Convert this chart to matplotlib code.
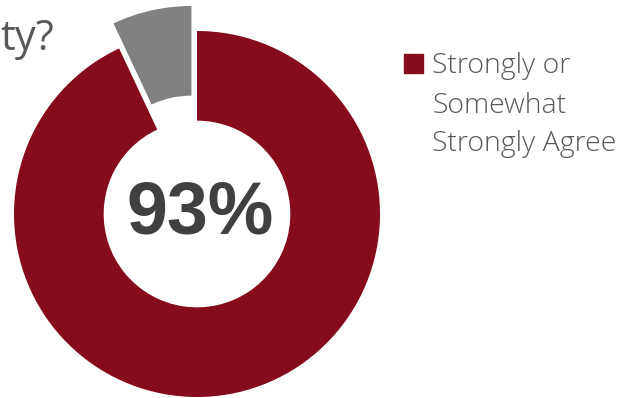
import matplotlib
matplotlib.use("Agg")
import matplotlib.pyplot as plt
from matplotlib.patches import Rectangle

# donut data
labels = ["Strongly or Somewhat Strongly Agree", "Other"]
values = [93, 7]
colors = ["#860B1C", "#808080"]
center_label = "93%"
legend_lines = ["Strongly or", "Somewhat", "Strongly Agree"]
title_tail = "ty?"

W, H = 621, 398
fig = plt.figure(figsize=(W / 100, H / 100), dpi=100)
ax = fig.add_axes([0, 0, 1, 1])

# pixel geometry of the donut
cx, cy, r = 197, 214, 183
ax.pie(values, colors=colors, startangle=90, counterclock=False,
       explode=[0, 0.14], radius=1,
       wedgeprops=dict(width=0.49, edgecolor="none"))
ax.set_xlim((0 - cx) / r, (W - cx) / r)
ax.set_ylim((cy - H) / r, cy / r)
ax.set_aspect("auto")
ax.axis("off")

ax.text(0.02, 0.0, center_label, ha="center", va="center",
        fontsize=53, fontweight="bold", color="#404040",
        family="Liberation Sans")

# cut-off title on the left
fig.text(54 / W, 1 - 50 / H, title_tail, ha="right", va="baseline",
         fontsize=30, color="#595959", family="Open Sans")

# legend drawn by hand
fig.patches.append(Rectangle((404 / W, 1 - 73 / H), 19 / W, 19 / H,
                             transform=fig.transFigure, color=colors[0]))
baselines = [73, 113, 151]
for txt, b in zip(legend_lines, baselines):
    fig.text(432 / W, 1 - b / H, txt, ha="left", va="baseline",
             fontsize=20.5, color="#595959", family="Open Sans",
             fontweight="light")

fig.savefig("out.png", dpi=100)
